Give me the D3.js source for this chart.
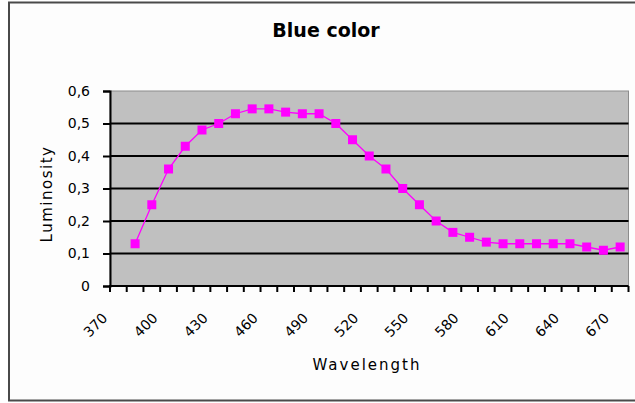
<!DOCTYPE html>
<html lang="en">

<head>
  <meta charset="UTF-8">
  <title>Blue color</title>
  <style>
    body {
      margin: 0;
      background: #fff;
    }

    text {
      font-family: "DejaVu Sans", sans-serif;
      fill: #000;
    }
  </style>
</head>

<body>
  <div id="main"></div>
</body>

</html>
<script src="https://cdn.jsdelivr.net/npm/d3@7"></script>

<script>
  // data
  let wavelengths = ["370", "380", "390", "400", "410", "420", "430", "440", "450", "460", "470",
    "480", "490", "500", "510", "520", "530", "540", "550", "560", "570", "580", "590", "600",
    "610", "620", "630", "640", "650", "660", "670"]
  // 370 has no value
  let luminosity = [null, 0.13, 0.25, 0.36, 0.43, 0.48, 0.50, 0.53, 0.545, 0.545, 0.535,
    0.53, 0.53, 0.50, 0.45, 0.40, 0.36, 0.30, 0.25, 0.20, 0.165, 0.15, 0.135, 0.13,
    0.13, 0.13, 0.13, 0.13, 0.12, 0.11, 0.12]
  let xTickLabels = ["370", "400", "430", "460", "490", "520", "550", "580", "610", "640", "670"]
  let yTickValues = [0, 0.1, 0.2, 0.3, 0.4, 0.5, 0.6]
  let yTickLabels = ["0", "0,1", "0,2", "0,3", "0,4", "0,5", "0,6"]

  let width = 635, height = 403
  let plotLeft = 110, plotRight = 628.5, plotTop = 91, plotBottom = 286
  let pink = "#ff00ff"

  let svg = d3.select('#main').append('svg')
    .attr('width', width)
    .attr('height', height)
    .style('display', 'block')

  let x = d3.scaleBand().domain(wavelengths).range([plotLeft, plotRight]).padding(0)
  let y = d3.scaleLinear().domain([0, 0.6]).range([plotBottom, plotTop])

  // frame
  svg.append('rect')
    .attr('x', 9).attr('y', 2.5)
    .attr('width', 640).attr('height', 398)
    .attr('fill', '#fdfdfd')
    .attr('stroke', '#4a4a4a')
    .attr('stroke-width', 2)

  // title
  svg.append('text')
    .attr('x', 326).attr('y', 37)
    .attr('text-anchor', 'middle')
    .style('font-size', '19px')
    .style('font-weight', 'bold')
    .text('Blue color')

  // plot area
  svg.append('rect')
    .attr('x', plotLeft).attr('y', plotTop)
    .attr('width', plotRight - plotLeft).attr('height', plotBottom - plotTop)
    .attr('fill', '#c0c0c0')
    .attr('stroke', '#8c8c8c')
    .attr('stroke-width', 1)

  // gridlines
  svg.append('g')
    .selectAll('line')
    .data(yTickValues.slice(1, -1))
    .join('line')
    .attr('x1', plotLeft).attr('x2', plotRight)
    .attr('y1', d => y(d)).attr('y2', d => y(d))
    .attr('stroke', '#000')
    .attr('stroke-width', 2)

  // y axis
  let yAxis = svg.append('g')
    .attr('transform', `translate(${plotLeft},0)`)
    .call(d3.axisLeft(y)
      .tickValues(yTickValues)
      .tickFormat((d, i) => yTickLabels[i])
      .tickSize(7)
      .tickPadding(13))
  yAxis.selectAll('path, line').attr('stroke', '#000').attr('stroke-width', 2)
  yAxis.selectAll('text')
    .style('font-size', '14px')
    .style('font-family', '"DejaVu Sans", sans-serif')

  // x axis: ticks on band edges, labels every 3rd category
  let xAxis = svg.append('g')
    .attr('transform', `translate(0,${plotBottom})`)
  xAxis.append('line')
    .attr('x1', plotLeft - 1).attr('x2', plotRight)
    .attr('stroke', '#000').attr('stroke-width', 2)
  xAxis.selectAll('.tick-mark')
    .data(wavelengths.concat(['end']))
    .join('line')
    .attr('class', 'tick-mark')
    .attr('x1', d => d === 'end' ? plotRight : x(d))
    .attr('x2', d => d === 'end' ? plotRight : x(d))
    .attr('y1', 0).attr('y2', 6)
    .attr('stroke', '#000').attr('stroke-width', 2)
  xAxis.selectAll('.xlabel')
    .data(xTickLabels)
    .join('text')
    .attr('class', 'xlabel')
    .attr('text-anchor', 'end')
    .style('font-size', '14px')
    .attr('transform', d => `translate(${x(d) + x.bandwidth() / 2 - 10},33) rotate(-45)`)
    .text(d => d)

  // axis titles
  svg.append('text')
    .attr('transform', 'translate(52,194) rotate(-90)')
    .attr('text-anchor', 'middle')
    .style('font-size', '15px')
    .style('letter-spacing', '1.5px')
    .text('Luminosity')

  svg.append('text')
    .attr('x', 367).attr('y', 370)
    .attr('text-anchor', 'middle')
    .style('font-size', '15px')
    .style('letter-spacing', '2px')
    .text('Wavelength')

  // series
  let points = wavelengths.map((w, i) => ({ w: w, v: luminosity[i] })).filter(d => d.v != null)
  let line = d3.line()
    .x(d => x(d.w) + x.bandwidth() / 2)
    .y(d => y(d.v))

  svg.append('path')
    .datum(points)
    .attr('d', line)
    .attr('fill', 'none')
    .attr('stroke', pink)
    .attr('stroke-width', 1.3)

  svg.append('g')
    .selectAll('rect')
    .data(points)
    .join('rect')
    .attr('x', d => x(d.w) + x.bandwidth() / 2 - 4.5)
    .attr('y', d => y(d.v) - 4.5)
    .attr('width', 9).attr('height', 9)
    .attr('fill', pink)
</script>
